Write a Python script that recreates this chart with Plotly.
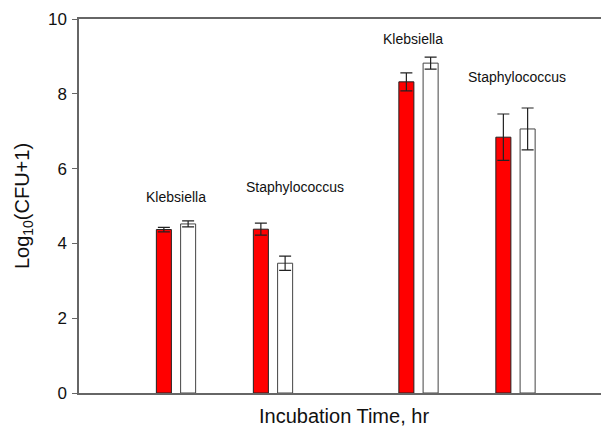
import plotly.graph_objects as go

# Data
group_pos = [1, 2, 3.5, 4.5]
group_labels = ["Klebsiella", "Staphylococcus", "Klebsiella", "Staphylococcus"]
label_y = [5.25, 5.52, 9.47, 8.46]
label_x = [1.0, 2.23, 3.44, 4.515]
red_vals = [4.37, 4.38, 8.32, 6.84]
red_err = [0.06, 0.16, 0.24, 0.62]
white_vals = [4.52, 3.47, 8.82, 7.06]
white_err = [0.08, 0.19, 0.16, 0.56]
y_ticks = [0, 2, 4, 6, 8, 10]

FONT = "Liberation Sans, Arial, sans-serif"

fig = go.Figure()
fig.add_trace(go.Bar(
    x=group_pos, y=red_vals, name="red",
    marker=dict(color="#FF0000", line=dict(color="#222222", width=1)),
    error_y=dict(type="data", array=red_err, color="#222222", thickness=1.2, width=6),
))
fig.add_trace(go.Bar(
    x=group_pos, y=white_vals, name="white",
    marker=dict(color="#FFFFFF", line=dict(color="#444444", width=1)),
    error_y=dict(type="data", array=white_err, color="#222222", thickness=1.2, width=6),
))

for x, y, t in zip(label_x, label_y, group_labels):
    fig.add_annotation(x=x, y=y, text=t, showarrow=False,
                       font=dict(family=FONT, size=14, color="#111111"))

# page body has an 8px margin; compensate so the plot lands where the reference has it
fig.update_layout(
    width=601, height=419,
    margin=dict(l=71, r=0, t=11, b=34),
    barmode="group", bargap=0.5, bargroupgap=0.38,
    plot_bgcolor="white", paper_bgcolor="white",
    showlegend=False,
    font=dict(family=FONT, color="#111111"),
)
fig.update_xaxes(
    range=[0, 5.464], showticklabels=False, ticks="", showgrid=False, zeroline=False,
    showline=True, linecolor="#666666", linewidth=1.5, mirror=True,
    title=dict(text="Incubation Time, hr", font=dict(family=FONT, size=20), standoff=15),
)
fig.update_yaxes(
    range=[0, 10], tickvals=y_ticks, ticks="outside", ticklen=5, tickcolor="#666666",
    showgrid=False, zeroline=False, showline=True, linecolor="#666666", linewidth=1.5,
    tickfont=dict(family=FONT, size=17), ticklabelstandoff=2,
    title=dict(text="Log<sub>10</sub>(CFU+1)", font=dict(family=FONT, size=20), standoff=13),
)

fig.write_html("out.html")
